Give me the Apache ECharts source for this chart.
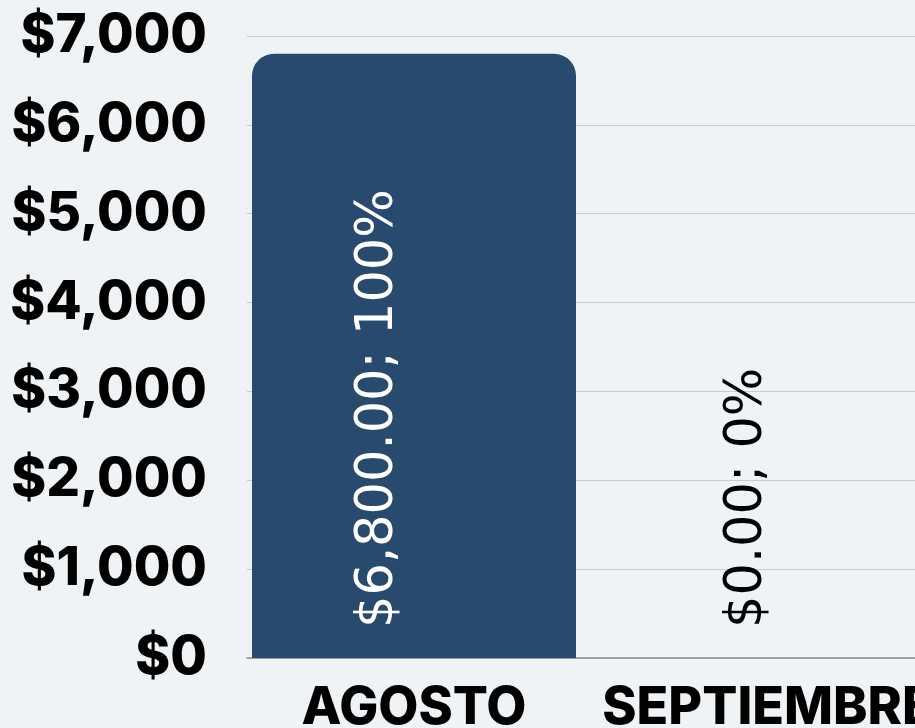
<!DOCTYPE html>
<html><head><meta charset="utf-8">
<script src="https://cdn.jsdelivr.net/npm/echarts@6/dist/echarts.min.js"></script>
<style>html,body{margin:0;padding:0;background:#eff3f5}#c{width:915px;height:728px}</style>
</head><body><div id="c"></div>
<script>
const categories = ['AGOSTO', 'SEPTIEMBRE'];
const values = [6800, 0];
const yTicks = [0, 1000, 2000, 3000, 4000, 5000, 6000, 7000];

const total = values.reduce((a, b) => a + b, 0);
const fmtMoney = v => '$' + v.toLocaleString('en-US', {minimumFractionDigits: 2, maximumFractionDigits: 2});
const chart = echarts.init(document.getElementById('c'));
chart.setOption({
  backgroundColor: '#eff3f5',
  animation: false,
  grid: {left: 247, right: 0, top: 36, bottom: 70, outerBoundsMode: 'none', containLabel: false},
  xAxis: {
    type: 'category',
    data: categories.map((c, i) => i === 1 ? {value: c, textStyle: {padding: [0, 0, 0, 40]}} : c),
    axisLine: {lineStyle: {color: '#8a8a8a', width: 1.5}},
    axisTick: {show: false},
    axisLabel: {color: '#000', fontFamily: 'Inter', fontWeight: 800, fontSize: 52, margin: 24, interval: 0}
  },
  yAxis: {
    type: 'value', min: yTicks[0], max: yTicks[yTicks.length - 1], interval: 1000,
    axisLine: {show: false}, axisTick: {show: false},
    splitLine: {lineStyle: {color: '#c9cccf', width: 1}},
    axisLabel: {color: '#000', fontFamily: 'Inter', fontWeight: 800, fontSize: 53, margin: 40,
      formatter: v => '$' + v.toLocaleString('en-US')}
  },
  series: [{
    type: 'bar', barWidth: 324,
    data: values.map((v, i) => ({value: v, label: {color: v > 0 ? '#fff' : '#000', offset: i === 0 ? [0, -35] : [0, 0]}})),
    itemStyle: {color: '#284a6f', borderRadius: [22, 22, 0, 0]},
    label: {
      show: true, position: 'insideBottom', rotate: 90, align: 'left', verticalAlign: 'middle',
      distance: 30, fontFamily: 'DejaVu Sans', fontWeight: 'normal', fontSize: 51,
      formatter: p => fmtMoney(p.value) + '; ' + Math.round(p.value / total * 100) + '%'
    }
  }]
});
</script></body></html>
